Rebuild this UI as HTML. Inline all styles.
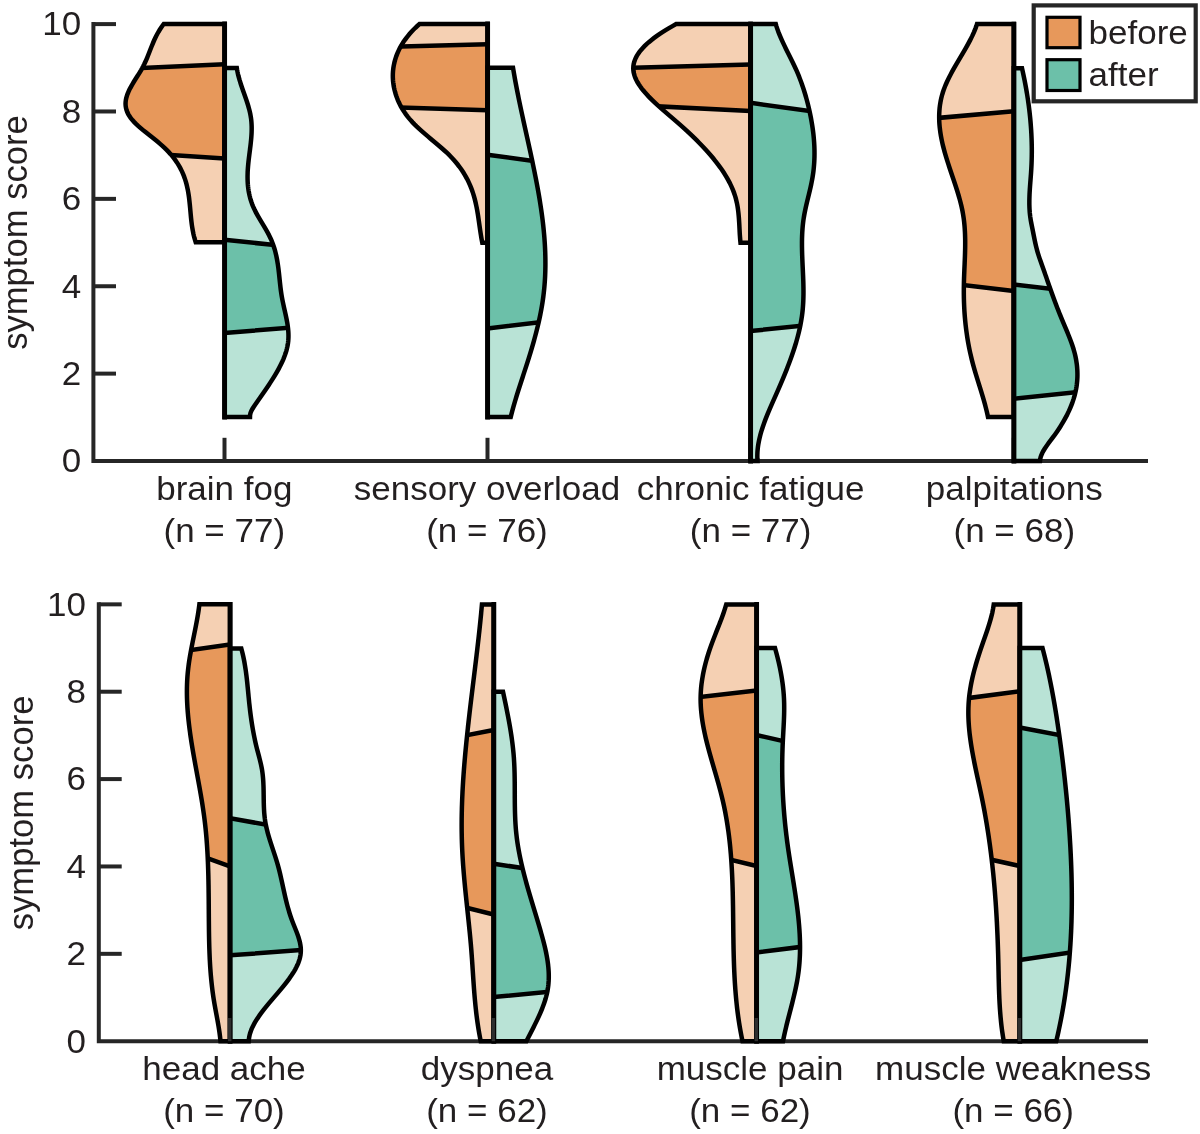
<!DOCTYPE html>
<html lang="en">
<head>
<meta charset="utf-8">
<title>symptom score before / after</title>
<style>
html,body{margin:0;padding:0;background:#fff}
body{width:1200px;height:1134px;overflow:hidden}
svg{display:block}
.t{font-family:"Liberation Sans",sans-serif;font-size:32.4px;fill:#231f20}
</style>
</head>
<body>
<svg width="1200" height="1134" viewBox="0 0 1200 1134">
<rect width="1200" height="1134" fill="#fff"/>
<defs><path id="p1" d="M224.5 24L163.75 24L162.25 26L160.87 28L159.58 30.01L158.38 32.01L157.26 34.01L156.21 36.01L155.23 38.01L154.3 40.01L153.42 42.02L152.58 44.02L151.77 46.02L150.97 48.02L150.19 50.02L149.41 52.03L148.63 54.03L147.83 56.03L147.01 58.03L146.15 60.03L145.26 62.03L144.32 64.04L143.32 66.04L142.25 68.04L141.12 70.04L139.93 72.04L138.7 74.05L137.45 76.05L136.19 78.05L134.93 80.05L133.7 82.05L132.49 84.06L131.34 86.06L130.25 88.06L129.23 90.06L128.31 92.06L127.5 94.06L126.81 96.07L126.25 98.07L125.85 100.07L125.61 102.07L125.55 104.07L125.68 106.08L126.01 108.08L126.54 110.08L127.27 112.08L128.23 114.08L129.4 116.08L130.8 118.09L132.42 120.09L134.25 122.09L136.25 124.09L138.39 126.09L140.67 128.1L143.04 130.1L145.49 132.1L148 134.1L150.52 136.1L153.05 138.1L155.55 140.11L158.01 142.11L160.38 144.11L162.66 146.11L164.82 148.11L166.86 150.12L168.78 152.12L170.58 154.12L172.27 156.12L173.86 158.12L175.34 160.12L176.72 162.13L178 164.13L179.2 166.13L180.31 168.13L181.33 170.13L182.27 172.14L183.14 174.14L183.94 176.14L184.67 178.14L185.33 180.14L185.94 182.14L186.49 184.15L186.99 186.15L187.43 188.15L187.84 190.15L188.2 192.15L188.53 194.16L188.83 196.16L189.1 198.16L189.34 200.16L189.56 202.16L189.77 204.17L189.96 206.17L190.14 208.17L190.32 210.17L190.5 212.17L190.68 214.17L190.87 216.18L191.07 218.18L191.28 220.18L191.51 222.18L191.76 224.18L192.04 226.19L192.35 228.19L192.7 230.19L193.08 232.19L193.5 234.19L193.97 236.19L194.49 238.2L195.07 240.2L195.7 242.2L224.5 242.2Z"/><clipPath id="c1"><use href="#p1"/></clipPath><path id="p2" d="M224.5 67.9L236.8 67.9L237.12 69.91L237.5 71.91L237.94 73.92L238.43 75.93L238.97 77.93L239.54 79.94L240.16 81.94L240.8 83.95L241.47 85.96L242.15 87.96L242.85 89.97L243.56 91.98L244.27 93.98L244.97 95.99L245.67 97.99L246.36 100L247.02 102.01L247.66 104.01L248.27 106.02L248.84 108.03L249.38 110.03L249.86 112.04L250.3 114.05L250.67 116.05L250.99 118.06L251.24 120.06L251.42 122.07L251.56 124.08L251.64 126.08L251.67 128.09L251.66 130.1L251.61 132.1L251.52 134.11L251.39 136.11L251.24 138.12L251.06 140.13L250.85 142.13L250.63 144.14L250.4 146.15L250.15 148.15L249.9 150.16L249.64 152.17L249.38 154.17L249.13 156.18L248.88 158.18L248.65 160.19L248.43 162.2L248.23 164.2L248.05 166.21L247.89 168.22L247.76 170.22L247.66 172.23L247.6 174.24L247.56 176.24L247.57 178.25L247.61 180.25L247.7 182.26L247.83 184.27L248.01 186.27L248.24 188.28L248.53 190.29L248.87 192.29L249.27 194.3L249.73 196.3L250.25 198.31L250.84 200.32L251.5 202.32L252.24 204.33L253.05 206.34L253.93 208.34L254.89 210.35L255.92 212.36L257 214.36L258.12 216.37L259.29 218.37L260.47 220.38L261.67 222.39L262.88 224.39L264.08 226.4L265.26 228.41L266.42 230.41L267.55 232.42L268.62 234.42L269.65 236.43L270.6 238.44L271.49 240.44L272.31 242.45L273.06 244.46L273.75 246.46L274.39 248.47L274.97 250.48L275.51 252.48L275.99 254.49L276.44 256.49L276.84 258.5L277.21 260.51L277.55 262.51L277.86 264.52L278.14 266.53L278.41 268.53L278.65 270.54L278.88 272.54L279.1 274.55L279.31 276.56L279.52 278.56L279.73 280.57L279.94 282.58L280.16 284.58L280.38 286.59L280.63 288.6L280.89 290.6L281.17 292.61L281.47 294.61L281.8 296.62L282.17 298.63L282.56 300.63L282.98 302.64L283.41 304.65L283.85 306.65L284.3 308.66L284.76 310.66L285.21 312.67L285.65 314.68L286.08 316.68L286.49 318.69L286.88 320.7L287.23 322.7L287.55 324.71L287.84 326.72L288.07 328.72L288.26 330.73L288.39 332.73L288.46 334.74L288.47 336.75L288.4 338.75L288.26 340.76L288.04 342.77L287.73 344.77L287.34 346.78L286.88 348.79L286.34 350.79L285.73 352.8L285.06 354.8L284.31 356.81L283.51 358.82L282.64 360.82L281.73 362.83L280.75 364.84L279.73 366.84L278.66 368.85L277.55 370.85L276.4 372.86L275.21 374.87L273.99 376.87L272.73 378.88L271.45 380.89L270.14 382.89L268.81 384.9L267.46 386.91L266.09 388.91L264.72 390.92L263.33 392.92L261.94 394.93L260.54 396.94L259.14 398.94L257.74 400.95L256.35 402.96L254.97 404.96L253.63 406.97L252.39 408.97L251.33 410.98L250.52 412.99L250.06 414.99L250 417L224.5 417Z"/><clipPath id="c2"><use href="#p2"/></clipPath><path id="p3" d="M487.5 24L419.5 24L417.27 26.01L415.15 28.01L413.15 30.02L411.26 32.03L409.48 34.04L407.81 36.04L406.24 38.05L404.77 40.06L403.39 42.07L402.12 44.07L400.93 46.08L399.84 48.09L398.84 50.1L397.92 52.1L397.08 54.11L396.32 56.12L395.64 58.12L395.03 60.13L394.5 62.14L394.05 64.15L393.66 66.15L393.35 68.16L393.11 70.17L392.95 72.18L392.85 74.18L392.83 76.19L392.87 78.2L392.99 80.21L393.18 82.21L393.43 84.22L393.75 86.23L394.15 88.23L394.61 90.24L395.13 92.25L395.73 94.26L396.39 96.26L397.13 98.27L397.94 100.28L398.82 102.29L399.79 104.29L400.84 106.3L401.98 108.31L403.21 110.32L404.53 112.32L405.94 114.33L407.45 116.34L409.07 118.34L410.78 120.35L412.6 122.36L414.54 124.37L416.57 126.37L418.71 128.38L420.92 130.39L423.2 132.4L425.53 134.4L427.89 136.41L430.29 138.42L432.69 140.43L435.09 142.43L437.47 144.44L439.82 146.45L442.13 148.46L444.37 150.46L446.54 152.47L448.63 154.48L450.62 156.48L452.52 158.49L454.32 160.5L456.04 162.51L457.67 164.51L459.21 166.52L460.68 168.53L462.07 170.54L463.38 172.54L464.62 174.55L465.78 176.56L466.88 178.57L467.91 180.57L468.88 182.58L469.78 184.59L470.63 186.59L471.42 188.6L472.15 190.61L472.84 192.62L473.48 194.62L474.07 196.63L474.62 198.64L475.13 200.65L475.61 202.65L476.06 204.66L476.47 206.67L476.86 208.68L477.23 210.68L477.57 212.69L477.9 214.7L478.21 216.7L478.51 218.71L478.8 220.72L479.09 222.73L479.37 224.73L479.66 226.74L479.94 228.75L480.24 230.76L480.54 232.76L480.86 234.77L481.19 236.78L481.54 238.79L481.91 240.79L482.3 242.8L487.5 242.8Z"/><clipPath id="c3"><use href="#p3"/></clipPath><path id="p4" d="M487.5 67.7L513 67.7L513.33 69.71L513.67 71.72L514.01 73.72L514.36 75.73L514.72 77.74L515.08 79.75L515.45 81.76L515.83 83.76L516.21 85.77L516.59 87.78L516.98 89.79L517.37 91.8L517.77 93.8L518.18 95.81L518.58 97.82L518.99 99.83L519.41 101.84L519.83 103.84L520.25 105.85L520.67 107.86L521.1 109.87L521.53 111.88L521.96 113.89L522.4 115.89L522.83 117.9L523.27 119.91L523.71 121.92L524.15 123.93L524.59 125.93L525.04 127.94L525.48 129.95L525.92 131.96L526.37 133.97L526.81 135.97L527.26 137.98L527.7 139.99L528.14 142L528.58 144.01L529.02 146.01L529.46 148.02L529.9 150.03L530.34 152.04L530.77 154.05L531.2 156.05L531.63 158.06L532.06 160.07L532.49 162.08L532.91 164.09L533.33 166.09L533.74 168.1L534.15 170.11L534.56 172.12L534.96 174.13L535.36 176.13L535.76 178.14L536.15 180.15L536.53 182.16L536.91 184.17L537.28 186.17L537.65 188.18L538.02 190.19L538.37 192.2L538.72 194.21L539.07 196.21L539.4 198.22L539.74 200.23L540.06 202.24L540.37 204.25L540.68 206.26L540.98 208.26L541.28 210.27L541.56 212.28L541.84 214.29L542.11 216.3L542.37 218.3L542.62 220.31L542.86 222.32L543.09 224.33L543.31 226.34L543.52 228.34L543.72 230.35L543.92 232.36L544.1 234.37L544.27 236.38L544.43 238.38L544.57 240.39L544.71 242.4L544.84 244.41L544.95 246.42L545.05 248.42L545.14 250.43L545.22 252.44L545.28 254.45L545.33 256.46L545.37 258.46L545.39 260.47L545.4 262.48L545.4 264.49L545.39 266.5L545.35 268.5L545.31 270.51L545.25 272.52L545.18 274.53L545.09 276.54L544.98 278.54L544.86 280.55L544.72 282.56L544.57 284.57L544.4 286.58L544.22 288.59L544.02 290.59L543.8 292.6L543.57 294.61L543.32 296.62L543.05 298.63L542.76 300.63L542.46 302.64L542.14 304.65L541.8 306.66L541.45 308.67L541.08 310.67L540.69 312.68L540.29 314.69L539.88 316.7L539.45 318.71L539.01 320.71L538.56 322.72L538.09 324.73L537.61 326.74L537.11 328.75L536.61 330.75L536.1 332.76L535.57 334.77L535.03 336.78L534.49 338.79L533.93 340.79L533.36 342.8L532.79 344.81L532.2 346.82L531.61 348.83L531.01 350.83L530.41 352.84L529.79 354.85L529.17 356.86L528.55 358.87L527.91 360.87L527.28 362.88L526.63 364.89L525.99 366.9L525.33 368.91L524.68 370.91L524.02 372.92L523.37 374.93L522.71 376.94L522.05 378.95L521.39 380.96L520.74 382.96L520.09 384.97L519.44 386.98L518.79 388.99L518.15 391L517.52 393L516.9 395.01L516.28 397.02L515.67 399.03L515.07 401.04L514.48 403.04L513.9 405.05L513.33 407.06L512.78 409.07L512.23 411.08L511.71 413.08L511.19 415.09L510.7 417.1L487.5 417.1Z"/><clipPath id="c4"><use href="#p4"/></clipPath><path id="p5" d="M750.5 24.1L676.1 24.1L672.47 26.11L668.99 28.11L665.65 30.12L662.46 32.13L659.42 34.13L656.54 36.14L653.81 38.14L651.24 40.15L648.83 42.16L646.58 44.16L644.51 46.17L642.59 48.18L640.85 50.18L639.29 52.19L637.89 54.2L636.68 56.2L635.65 58.21L634.8 60.22L634.13 62.22L633.65 64.23L633.36 66.23L633.27 68.24L633.36 70.25L633.64 72.25L634.1 74.26L634.72 76.27L635.51 78.27L636.45 80.28L637.53 82.29L638.75 84.29L640.1 86.3L641.57 88.31L643.15 90.31L644.84 92.32L646.63 94.32L648.5 96.33L650.46 98.34L652.49 100.34L654.58 102.35L656.73 104.36L658.93 106.36L661.17 108.37L663.45 110.38L665.75 112.38L668.07 114.39L670.4 116.4L672.73 118.4L675.05 120.41L677.36 122.41L679.65 124.42L681.91 126.43L684.14 128.43L686.34 130.44L688.5 132.45L690.64 134.45L692.74 136.46L694.81 138.47L696.84 140.47L698.84 142.48L700.8 144.49L702.72 146.49L704.6 148.5L706.44 150.5L708.24 152.51L710 154.52L711.71 156.52L713.38 158.53L715 160.54L716.58 162.54L718.11 164.55L719.59 166.56L721.02 168.56L722.4 170.57L723.73 172.58L725.01 174.58L726.23 176.59L727.4 178.59L728.51 180.6L729.57 182.61L730.56 184.61L731.5 186.62L732.38 188.63L733.2 190.63L733.96 192.64L734.66 194.65L735.29 196.65L735.86 198.66L736.37 200.67L736.82 202.67L737.22 204.68L737.58 206.68L737.89 208.69L738.16 210.7L738.4 212.7L738.6 214.71L738.78 216.72L738.94 218.72L739.07 220.73L739.19 222.74L739.31 224.74L739.41 226.75L739.51 228.76L739.62 230.76L739.72 232.77L739.84 234.77L739.98 236.78L740.13 238.79L740.3 240.79L740.5 242.8L750.5 242.8Z"/><clipPath id="c5"><use href="#p5"/></clipPath><path id="p6" d="M750.5 24.1L775.8 24.1L776.39 26.1L777.04 28.11L777.73 30.11L778.47 32.12L779.26 34.12L780.09 36.12L780.95 38.13L781.84 40.13L782.76 42.14L783.71 44.14L784.67 46.15L785.65 48.15L786.64 50.15L787.64 52.16L788.65 54.16L789.65 56.17L790.65 58.17L791.64 60.17L792.63 62.18L793.59 64.18L794.54 66.19L795.47 68.19L796.36 70.19L797.23 72.2L798.08 74.2L798.9 76.21L799.69 78.21L800.46 80.22L801.2 82.22L801.92 84.22L802.61 86.23L803.29 88.23L803.94 90.24L804.56 92.24L805.17 94.24L805.76 96.25L806.32 98.25L806.87 100.26L807.4 102.26L807.91 104.27L808.4 106.27L808.87 108.27L809.33 110.28L809.77 112.28L810.19 114.29L810.6 116.29L810.99 118.29L811.36 120.3L811.71 122.3L812.04 124.31L812.36 126.31L812.65 128.31L812.93 130.32L813.18 132.32L813.41 134.33L813.62 136.33L813.81 138.34L813.98 140.34L814.13 142.34L814.25 144.35L814.35 146.35L814.42 148.36L814.47 150.36L814.49 152.36L814.49 154.37L814.47 156.37L814.41 158.38L814.33 160.38L814.23 162.38L814.09 164.39L813.93 166.39L813.74 168.4L813.52 170.4L813.28 172.41L813 174.41L812.69 176.41L812.35 178.42L811.98 180.42L811.59 182.43L811.17 184.43L810.74 186.43L810.28 188.44L809.82 190.44L809.34 192.45L808.86 194.45L808.37 196.46L807.88 198.46L807.39 200.46L806.91 202.47L806.44 204.47L805.98 206.48L805.54 208.48L805.12 210.48L804.71 212.49L804.33 214.49L803.98 216.5L803.66 218.5L803.37 220.5L803.12 222.51L802.89 224.51L802.69 226.52L802.52 228.52L802.38 230.53L802.25 232.53L802.16 234.53L802.08 236.54L802.02 238.54L801.99 240.55L801.97 242.55L801.97 244.55L801.98 246.56L802.01 248.56L802.05 250.57L802.1 252.57L802.16 254.57L802.23 256.58L802.31 258.58L802.39 260.59L802.48 262.59L802.57 264.6L802.66 266.6L802.76 268.6L802.85 270.61L802.94 272.61L803.03 274.62L803.12 276.62L803.19 278.62L803.27 280.63L803.33 282.63L803.38 284.64L803.42 286.64L803.45 288.64L803.47 290.65L803.47 292.65L803.46 294.66L803.42 296.66L803.37 298.67L803.3 300.67L803.21 302.67L803.09 304.68L802.95 306.68L802.79 308.69L802.59 310.69L802.37 312.69L802.12 314.7L801.85 316.7L801.54 318.71L801.21 320.71L800.86 322.72L800.47 324.72L800.07 326.72L799.64 328.73L799.19 330.73L798.71 332.74L798.21 334.74L797.69 336.74L797.15 338.75L796.59 340.75L796.01 342.76L795.4 344.76L794.79 346.76L794.15 348.77L793.49 350.77L792.82 352.78L792.13 354.78L791.43 356.79L790.71 358.79L789.98 360.79L789.24 362.8L788.48 364.8L787.7 366.81L786.92 368.81L786.13 370.81L785.32 372.82L784.5 374.82L783.68 376.83L782.85 378.83L782 380.83L781.15 382.84L780.3 384.84L779.43 386.85L778.56 388.85L777.69 390.86L776.81 392.86L775.93 394.86L775.04 396.87L774.15 398.87L773.26 400.88L772.38 402.88L771.5 404.88L770.63 406.89L769.77 408.89L768.91 410.9L768.08 412.9L767.25 414.91L766.45 416.91L765.66 418.91L764.9 420.92L764.16 422.92L763.45 424.93L762.76 426.93L762.11 428.93L761.49 430.94L760.9 432.94L760.35 434.95L759.84 436.95L759.37 438.95L758.94 440.96L758.56 442.96L758.22 444.97L757.93 446.97L757.7 448.98L757.52 450.98L757.4 452.98L757.33 454.99L757.32 456.99L757.38 459L757.5 461L750.5 461Z"/><clipPath id="c6"><use href="#p6"/></clipPath><path id="p7" d="M1013.8 24.1L977 24.1L976.33 26.1L975.6 28.11L974.81 30.11L973.97 32.12L973.08 34.12L972.15 36.13L971.17 38.13L970.15 40.14L969.1 42.14L968.02 44.15L966.92 46.15L965.79 48.16L964.64 50.16L963.47 52.16L962.3 54.17L961.11 56.17L959.93 58.18L958.74 60.18L957.56 62.19L956.38 64.19L955.22 66.2L954.07 68.2L952.95 70.21L951.84 72.21L950.76 74.21L949.71 76.22L948.7 78.22L947.73 80.23L946.79 82.23L945.91 84.24L945.07 86.24L944.29 88.25L943.56 90.25L942.89 92.26L942.29 94.26L941.74 96.27L941.25 98.27L940.81 100.27L940.43 102.28L940.1 104.28L939.83 106.29L939.6 108.29L939.42 110.3L939.3 112.3L939.21 114.31L939.18 116.31L939.18 118.32L939.23 120.32L939.32 122.32L939.45 124.33L939.62 126.33L939.83 128.34L940.07 130.34L940.35 132.35L940.66 134.35L941 136.36L941.38 138.36L941.78 140.37L942.21 142.37L942.67 144.38L943.16 146.38L943.67 148.38L944.2 150.39L944.75 152.39L945.33 154.4L945.92 156.4L946.53 158.41L947.15 160.41L947.79 162.42L948.44 164.42L949.1 166.43L949.77 168.43L950.44 170.44L951.11 172.44L951.79 174.44L952.47 176.45L953.15 178.45L953.83 180.46L954.5 182.46L955.16 184.47L955.82 186.47L956.46 188.48L957.1 190.48L957.72 192.49L958.32 194.49L958.91 196.49L959.47 198.5L960.02 200.5L960.54 202.51L961.04 204.51L961.52 206.52L961.96 208.52L962.38 210.53L962.76 212.53L963.11 214.54L963.43 216.54L963.71 218.55L963.97 220.55L964.2 222.55L964.4 224.56L964.58 226.56L964.73 228.57L964.85 230.57L964.96 232.58L965.04 234.58L965.1 236.59L965.15 238.59L965.18 240.6L965.19 242.6L965.18 244.61L965.17 246.61L965.14 248.61L965.09 250.62L965.04 252.62L964.98 254.63L964.92 256.63L964.84 258.64L964.76 260.64L964.68 262.65L964.6 264.65L964.51 266.66L964.42 268.66L964.34 270.66L964.26 272.67L964.18 274.67L964.1 276.68L964.03 278.68L963.97 280.69L963.92 282.69L963.88 284.7L963.85 286.7L963.83 288.71L963.82 290.71L963.82 292.72L963.84 294.72L963.86 296.72L963.9 298.73L963.95 300.73L964.02 302.74L964.1 304.74L964.19 306.75L964.29 308.75L964.4 310.76L964.53 312.76L964.68 314.77L964.83 316.77L965.01 318.77L965.19 320.78L965.39 322.78L965.6 324.79L965.83 326.79L966.07 328.8L966.33 330.8L966.61 332.81L966.89 334.81L967.2 336.82L967.52 338.82L967.85 340.83L968.2 342.83L968.57 344.83L968.95 346.84L969.35 348.84L969.77 350.85L970.2 352.85L970.65 354.86L971.12 356.86L971.61 358.87L972.11 360.87L972.63 362.88L973.16 364.88L973.72 366.89L974.28 368.89L974.86 370.89L975.45 372.9L976.06 374.9L976.66 376.91L977.28 378.91L977.9 380.92L978.52 382.92L979.14 384.93L979.77 386.93L980.39 388.94L981.01 390.94L981.62 392.94L982.22 394.95L982.82 396.95L983.41 398.96L983.99 400.96L984.55 402.97L985.1 404.97L985.63 406.98L986.15 408.98L986.65 410.99L987.12 412.99L987.57 415L988 417L1013.8 417Z"/><clipPath id="c7"><use href="#p7"/></clipPath><path id="p8" d="M1013.8 68.2L1022 68.2L1022.45 70.2L1022.89 72.21L1023.32 74.21L1023.74 76.22L1024.15 78.22L1024.56 80.22L1024.95 82.23L1025.33 84.23L1025.7 86.24L1026.06 88.24L1026.41 90.24L1026.75 92.25L1027.08 94.25L1027.4 96.26L1027.71 98.26L1028.01 100.27L1028.29 102.27L1028.57 104.27L1028.84 106.28L1029.09 108.28L1029.34 110.29L1029.57 112.29L1029.79 114.29L1030 116.3L1030.2 118.3L1030.39 120.31L1030.56 122.31L1030.73 124.31L1030.88 126.32L1031.02 128.32L1031.16 130.33L1031.27 132.33L1031.38 134.33L1031.47 136.34L1031.56 138.34L1031.63 140.35L1031.69 142.35L1031.73 144.36L1031.77 146.36L1031.79 148.36L1031.8 150.37L1031.8 152.37L1031.78 154.38L1031.75 156.38L1031.71 158.38L1031.66 160.39L1031.59 162.39L1031.52 164.4L1031.42 166.4L1031.32 168.4L1031.2 170.41L1031.07 172.41L1030.93 174.42L1030.78 176.42L1030.63 178.42L1030.48 180.43L1030.32 182.43L1030.17 184.44L1030.02 186.44L1029.88 188.44L1029.76 190.45L1029.64 192.45L1029.54 194.46L1029.46 196.46L1029.4 198.47L1029.36 200.47L1029.35 202.47L1029.36 204.48L1029.41 206.48L1029.49 208.49L1029.61 210.49L1029.76 212.49L1029.96 214.5L1030.2 216.5L1030.49 218.51L1030.82 220.51L1031.18 222.51L1031.56 224.52L1031.97 226.52L1032.37 228.53L1032.78 230.53L1033.17 232.53L1033.56 234.54L1033.96 236.54L1034.35 238.55L1034.77 240.55L1035.19 242.56L1035.64 244.56L1036.11 246.56L1036.62 248.57L1037.16 250.57L1037.74 252.58L1038.36 254.58L1039 256.58L1039.67 258.59L1040.36 260.59L1041.06 262.6L1041.76 264.6L1042.48 266.6L1043.19 268.61L1043.9 270.61L1044.61 272.62L1045.31 274.62L1046.02 276.62L1046.72 278.63L1047.43 280.63L1048.13 282.64L1048.84 284.64L1049.55 286.64L1050.26 288.65L1050.97 290.65L1051.69 292.66L1052.41 294.66L1053.14 296.67L1053.87 298.67L1054.61 300.67L1055.35 302.68L1056.11 304.68L1056.86 306.69L1057.63 308.69L1058.41 310.69L1059.2 312.7L1059.99 314.7L1060.8 316.71L1061.62 318.71L1062.45 320.71L1063.29 322.72L1064.13 324.72L1064.99 326.73L1065.84 328.73L1066.68 330.73L1067.52 332.74L1068.34 334.74L1069.15 336.75L1069.94 338.75L1070.7 340.76L1071.44 342.76L1072.15 344.76L1072.82 346.77L1073.45 348.77L1074.04 350.78L1074.58 352.78L1075.08 354.78L1075.53 356.79L1075.93 358.79L1076.29 360.8L1076.59 362.8L1076.86 364.8L1077.07 366.81L1077.23 368.81L1077.35 370.82L1077.41 372.82L1077.43 374.82L1077.4 376.83L1077.31 378.83L1077.18 380.84L1076.99 382.84L1076.76 384.84L1076.47 386.85L1076.13 388.85L1075.73 390.86L1075.29 392.86L1074.79 394.87L1074.23 396.87L1073.63 398.87L1072.97 400.88L1072.27 402.88L1071.51 404.89L1070.71 406.89L1069.86 408.89L1068.96 410.9L1068.01 412.9L1067.02 414.91L1065.98 416.91L1064.89 418.91L1063.76 420.92L1062.59 422.92L1061.38 424.93L1060.12 426.93L1058.82 428.93L1057.48 430.94L1056.1 432.94L1054.69 434.95L1053.23 436.95L1051.74 438.96L1050.22 440.96L1048.72 442.96L1047.25 444.97L1045.85 446.97L1044.53 448.98L1043.33 450.98L1042.27 452.98L1041.38 454.99L1040.69 456.99L1040.22 459L1040 461L1013.8 461Z"/><clipPath id="c8"><use href="#p8"/></clipPath><path id="p9" d="M230 604.3L199.4 604.3L199.15 606.3L198.88 608.31L198.59 610.31L198.29 612.32L197.97 614.32L197.63 616.32L197.28 618.33L196.92 620.33L196.55 622.34L196.17 624.34L195.79 626.35L195.39 628.35L195 630.35L194.59 632.36L194.19 634.36L193.78 636.37L193.38 638.37L192.97 640.37L192.57 642.38L192.18 644.38L191.78 646.39L191.4 648.39L191.02 650.39L190.66 652.4L190.3 654.4L189.95 656.41L189.62 658.41L189.3 660.42L189 662.42L188.72 664.42L188.45 666.43L188.21 668.43L187.99 670.44L187.78 672.44L187.6 674.44L187.44 676.45L187.31 678.45L187.19 680.46L187.1 682.46L187.02 684.47L186.96 686.47L186.92 688.47L186.91 690.48L186.9 692.48L186.92 694.49L186.95 696.49L187.01 698.49L187.07 700.5L187.16 702.5L187.26 704.51L187.37 706.51L187.5 708.51L187.64 710.52L187.8 712.52L187.97 714.53L188.15 716.53L188.35 718.54L188.56 720.54L188.78 722.54L189.01 724.55L189.25 726.55L189.5 728.56L189.77 730.56L190.04 732.56L190.32 734.57L190.61 736.57L190.91 738.58L191.21 740.58L191.52 742.58L191.84 744.59L192.17 746.59L192.5 748.6L192.84 750.6L193.18 752.61L193.53 754.61L193.88 756.61L194.24 758.62L194.6 760.62L194.96 762.63L195.32 764.63L195.69 766.63L196.06 768.64L196.43 770.64L196.79 772.65L197.16 774.65L197.53 776.66L197.9 778.66L198.27 780.66L198.63 782.67L199 784.67L199.36 786.68L199.72 788.68L200.07 790.68L200.42 792.69L200.77 794.69L201.11 796.7L201.45 798.7L201.78 800.7L202.11 802.71L202.43 804.71L202.74 806.72L203.04 808.72L203.34 810.73L203.63 812.73L203.91 814.73L204.18 816.74L204.44 818.74L204.69 820.75L204.93 822.75L205.16 824.75L205.38 826.76L205.6 828.76L205.8 830.77L205.99 832.77L206.17 834.77L206.35 836.78L206.52 838.78L206.67 840.79L206.82 842.79L206.97 844.8L207.1 846.8L207.23 848.8L207.35 850.81L207.46 852.81L207.57 854.82L207.67 856.82L207.76 858.82L207.85 860.83L207.93 862.83L208.01 864.84L208.08 866.84L208.15 868.84L208.21 870.85L208.27 872.85L208.32 874.86L208.37 876.86L208.41 878.87L208.46 880.87L208.49 882.87L208.53 884.88L208.56 886.88L208.59 888.89L208.61 890.89L208.64 892.89L208.66 894.9L208.68 896.9L208.7 898.91L208.72 900.91L208.73 902.92L208.75 904.92L208.76 906.92L208.77 908.93L208.79 910.93L208.8 912.94L208.82 914.94L208.83 916.94L208.85 918.95L208.86 920.95L208.88 922.96L208.9 924.96L208.92 926.96L208.94 928.97L208.96 930.97L208.99 932.98L209.02 934.98L209.06 936.99L209.1 938.99L209.14 940.99L209.19 943L209.24 945L209.29 947.01L209.36 949.01L209.43 951.01L209.5 953.02L209.58 955.02L209.67 957.03L209.76 959.03L209.87 961.03L209.98 963.04L210.1 965.04L210.22 967.05L210.36 969.05L210.5 971.06L210.66 973.06L210.82 975.06L211 977.07L211.18 979.07L211.38 981.08L211.59 983.08L211.81 985.08L212.04 987.09L212.28 989.09L212.54 991.1L212.81 993.1L213.09 995.11L213.38 997.11L213.69 999.11L214.02 1001.12L214.35 1003.12L214.7 1005.13L215.06 1007.13L215.42 1009.13L215.79 1011.14L216.16 1013.14L216.54 1015.15L216.91 1017.15L217.28 1019.15L217.64 1021.16L217.99 1023.16L218.34 1025.17L218.67 1027.17L218.99 1029.18L219.29 1031.18L219.58 1033.18L219.84 1035.19L220.09 1037.19L220.31 1039.2L220.5 1041.2L230 1041.2Z"/><clipPath id="c9"><use href="#p9"/></clipPath><path id="p10" d="M230 648.5L241.3 648.5L241.84 650.5L242.35 652.51L242.83 654.51L243.28 656.51L243.7 658.52L244.1 660.52L244.47 662.52L244.82 664.53L245.15 666.53L245.46 668.54L245.76 670.54L246.03 672.54L246.29 674.55L246.54 676.55L246.78 678.55L247 680.56L247.22 682.56L247.42 684.56L247.62 686.57L247.82 688.57L248.02 690.58L248.21 692.58L248.4 694.58L248.59 696.59L248.79 698.59L248.99 700.59L249.19 702.6L249.4 704.6L249.62 706.6L249.85 708.61L250.09 710.61L250.34 712.61L250.6 714.62L250.87 716.62L251.15 718.62L251.44 720.63L251.74 722.63L252.05 724.64L252.38 726.64L252.72 728.64L253.08 730.65L253.45 732.65L253.83 734.65L254.23 736.66L254.64 738.66L255.07 740.66L255.51 742.67L255.98 744.67L256.46 746.68L256.95 748.68L257.47 750.68L258 752.69L258.53 754.69L259.06 756.69L259.59 758.7L260.1 760.7L260.58 762.7L261.04 764.71L261.46 766.71L261.84 768.71L262.17 770.72L262.46 772.72L262.71 774.73L262.91 776.73L263.09 778.73L263.23 780.74L263.34 782.74L263.43 784.74L263.51 786.75L263.56 788.75L263.6 790.75L263.63 792.76L263.66 794.76L263.69 796.76L263.71 798.77L263.74 800.77L263.78 802.78L263.83 804.78L263.9 806.78L263.99 808.79L264.1 810.79L264.23 812.79L264.4 814.8L264.6 816.8L264.84 818.8L265.13 820.81L265.46 822.81L265.83 824.81L266.25 826.82L266.71 828.82L267.21 830.83L267.73 832.83L268.29 834.83L268.88 836.84L269.48 838.84L270.11 840.84L270.75 842.85L271.4 844.85L272.06 846.85L272.72 848.86L273.39 850.86L274.05 852.86L274.71 854.87L275.36 856.87L275.99 858.88L276.61 860.88L277.21 862.88L277.79 864.89L278.34 866.89L278.87 868.89L279.38 870.9L279.87 872.9L280.35 874.9L280.82 876.91L281.27 878.91L281.72 880.91L282.16 882.92L282.6 884.92L283.03 886.93L283.47 888.93L283.91 890.93L284.35 892.94L284.8 894.94L285.25 896.94L285.72 898.95L286.21 900.95L286.7 902.95L287.22 904.96L287.75 906.96L288.31 908.96L288.89 910.97L289.5 912.97L290.14 914.98L290.81 916.98L291.51 918.98L292.25 920.99L293.02 922.99L293.81 924.99L294.62 927L295.42 929L296.22 931L296.99 933.01L297.72 935.01L298.41 937.01L299.03 939.02L299.59 941.02L300.05 943.03L300.42 945.03L300.69 947.03L300.83 949.04L300.84 951.04L300.73 953.04L300.49 955.05L300.12 957.05L299.61 959.05L298.99 961.06L298.24 963.06L297.39 965.06L296.43 967.07L295.38 969.07L294.24 971.08L293.01 973.08L291.71 975.08L290.33 977.09L288.9 979.09L287.4 981.09L285.86 983.1L284.27 985.1L282.64 987.1L280.99 989.11L279.3 991.11L277.61 993.11L275.9 995.12L274.18 997.12L272.47 999.12L270.77 1001.13L269.08 1003.13L267.42 1005.14L265.78 1007.14L264.18 1009.14L262.62 1011.15L261.11 1013.15L259.66 1015.15L258.26 1017.16L256.94 1019.16L255.69 1021.16L254.52 1023.17L253.44 1025.17L252.45 1027.18L251.56 1029.18L250.79 1031.18L250.12 1033.19L249.58 1035.19L249.17 1037.19L248.89 1039.2L248.75 1041.2L230 1041.2Z"/><clipPath id="c10"><use href="#p10"/></clipPath><path id="p11" d="M493.7 604.4L481.95 604.4L481.77 606.4L481.59 608.41L481.41 610.41L481.22 612.41L481.03 614.42L480.83 616.42L480.63 618.43L480.43 620.43L480.23 622.43L480.02 624.44L479.81 626.44L479.6 628.44L479.39 630.45L479.17 632.45L478.95 634.46L478.73 636.46L478.51 638.46L478.28 640.47L478.05 642.47L477.82 644.47L477.59 646.48L477.36 648.48L477.13 650.48L476.89 652.49L476.65 654.49L476.42 656.5L476.18 658.5L475.94 660.5L475.69 662.51L475.45 664.51L475.21 666.51L474.97 668.52L474.72 670.52L474.48 672.52L474.23 674.53L473.99 676.53L473.74 678.54L473.49 680.54L473.25 682.54L473 684.55L472.76 686.55L472.51 688.55L472.27 690.56L472.02 692.56L471.78 694.57L471.53 696.57L471.29 698.57L471.05 700.58L470.81 702.58L470.57 704.58L470.33 706.59L470.09 708.59L469.86 710.59L469.62 712.6L469.39 714.6L469.16 716.61L468.93 718.61L468.7 720.61L468.47 722.62L468.25 724.62L468.02 726.62L467.8 728.63L467.59 730.63L467.37 732.63L467.16 734.64L466.95 736.64L466.74 738.65L466.53 740.65L466.33 742.65L466.13 744.66L465.93 746.66L465.74 748.66L465.55 750.67L465.36 752.67L465.18 754.68L465 756.68L464.83 758.68L464.65 760.69L464.48 762.69L464.32 764.69L464.16 766.7L464 768.7L463.85 770.7L463.7 772.71L463.56 774.71L463.42 776.72L463.28 778.72L463.15 780.72L463.03 782.73L462.91 784.73L462.79 786.73L462.68 788.74L462.57 790.74L462.47 792.74L462.38 794.75L462.29 796.75L462.2 798.76L462.13 800.76L462.05 802.76L461.99 804.77L461.92 806.77L461.87 808.77L461.82 810.78L461.78 812.78L461.74 814.79L461.71 816.79L461.69 818.79L461.67 820.8L461.66 822.8L461.65 824.8L461.66 826.81L461.67 828.81L461.68 830.81L461.71 832.82L461.74 834.82L461.78 836.83L461.82 838.83L461.88 840.83L461.94 842.84L462.01 844.84L462.08 846.84L462.17 848.85L462.26 850.85L462.36 852.86L462.47 854.86L462.58 856.86L462.71 858.87L462.84 860.87L462.97 862.87L463.11 864.88L463.26 866.88L463.42 868.88L463.58 870.89L463.74 872.89L463.91 874.9L464.09 876.9L464.26 878.9L464.45 880.91L464.63 882.91L464.83 884.91L465.02 886.92L465.22 888.92L465.42 890.92L465.62 892.93L465.82 894.93L466.03 896.94L466.24 898.94L466.45 900.94L466.66 902.95L466.87 904.95L467.08 906.95L467.3 908.96L467.51 910.96L467.72 912.97L467.94 914.97L468.15 916.97L468.36 918.98L468.57 920.98L468.78 922.98L468.98 924.99L469.19 926.99L469.39 928.99L469.59 931L469.79 933L469.98 935.01L470.17 937.01L470.36 939.01L470.54 941.02L470.72 943.02L470.9 945.02L471.07 947.03L471.23 949.03L471.39 951.03L471.54 953.04L471.69 955.04L471.84 957.05L471.98 959.05L472.12 961.05L472.26 963.06L472.39 965.06L472.52 967.06L472.65 969.07L472.79 971.07L472.92 973.08L473.05 975.08L473.18 977.08L473.31 979.09L473.45 981.09L473.59 983.09L473.73 985.1L473.87 987.1L474.02 989.1L474.18 991.11L474.33 993.11L474.5 995.12L474.67 997.12L474.84 999.12L475.03 1001.13L475.22 1003.13L475.41 1005.13L475.62 1007.14L475.83 1009.14L476.06 1011.14L476.29 1013.15L476.53 1015.15L476.78 1017.16L477.04 1019.16L477.31 1021.16L477.6 1023.17L477.89 1025.17L478.2 1027.17L478.51 1029.18L478.85 1031.18L479.19 1033.19L479.55 1035.19L479.92 1037.19L480.3 1039.2L480.7 1041.2L493.7 1041.2Z"/><clipPath id="c11"><use href="#p11"/></clipPath><path id="p12" d="M493.7 691.75L503 691.75L503.43 693.76L503.85 695.77L504.28 697.77L504.7 699.78L505.12 701.79L505.54 703.8L505.95 705.81L506.36 707.82L506.77 709.83L507.17 711.83L507.56 713.84L507.95 715.85L508.33 717.86L508.71 719.87L509.08 721.88L509.44 723.88L509.79 725.89L510.13 727.9L510.47 729.91L510.79 731.92L511.1 733.92L511.41 735.93L511.7 737.94L511.98 739.95L512.25 741.96L512.5 743.97L512.74 745.98L512.97 747.98L513.18 749.99L513.38 752L513.57 754.01L513.73 756.02L513.89 758.02L514.02 760.03L514.14 762.04L514.25 764.05L514.34 766.06L514.42 768.07L514.49 770.08L514.55 772.08L514.6 774.09L514.64 776.1L514.67 778.11L514.7 780.12L514.72 782.12L514.74 784.13L514.75 786.14L514.76 788.15L514.77 790.16L514.77 792.17L514.78 794.18L514.78 796.18L514.79 798.19L514.81 800.2L514.82 802.21L514.84 804.22L514.87 806.23L514.9 808.23L514.94 810.24L514.99 812.25L515.05 814.26L515.12 816.27L515.2 818.27L515.29 820.28L515.4 822.29L515.52 824.3L515.66 826.31L515.81 828.32L515.98 830.33L516.17 832.33L516.38 834.34L516.6 836.35L516.85 838.36L517.12 840.37L517.4 842.38L517.71 844.38L518.03 846.39L518.37 848.4L518.72 850.41L519.1 852.42L519.48 854.43L519.89 856.43L520.31 858.44L520.74 860.45L521.18 862.46L521.64 864.47L522.11 866.48L522.59 868.48L523.09 870.49L523.59 872.5L524.11 874.51L524.63 876.52L525.17 878.53L525.71 880.53L526.26 882.54L526.82 884.55L527.38 886.56L527.95 888.57L528.53 890.58L529.12 892.58L529.7 894.59L530.3 896.6L530.89 898.61L531.49 900.62L532.09 902.62L532.7 904.63L533.3 906.64L533.91 908.65L534.52 910.66L535.12 912.67L535.73 914.68L536.34 916.68L536.94 918.69L537.54 920.7L538.14 922.71L538.74 924.72L539.33 926.73L539.92 928.73L540.5 930.74L541.08 932.75L541.65 934.76L542.21 936.77L542.76 938.78L543.29 940.78L543.81 942.79L544.32 944.8L544.81 946.81L545.28 948.82L545.72 950.83L546.14 952.83L546.54 954.84L546.91 956.85L547.26 958.86L547.57 960.87L547.85 962.88L548.1 964.88L548.31 966.89L548.48 968.9L548.62 970.91L548.72 972.92L548.77 974.93L548.78 976.93L548.74 978.94L548.66 980.95L548.52 982.96L548.34 984.97L548.1 986.98L547.81 988.98L547.46 990.99L547.06 993L546.59 995.01L546.07 997.02L545.5 999.03L544.88 1001.03L544.21 1003.04L543.5 1005.05L542.74 1007.06L541.95 1009.07L541.12 1011.08L540.26 1013.08L539.37 1015.09L538.46 1017.1L537.51 1019.11L536.55 1021.12L535.57 1023.12L534.58 1025.13L533.57 1027.14L532.55 1029.15L531.52 1031.16L530.49 1033.17L529.47 1035.18L528.44 1037.18L527.41 1039.19L526.4 1041.2L493.7 1041.2Z"/><clipPath id="c12"><use href="#p12"/></clipPath><path id="p13" d="M756.5 604.4L726.25 604.4L725.66 606.4L725.05 608.41L724.4 610.41L723.72 612.41L723.02 614.42L722.3 616.42L721.57 618.43L720.81 620.43L720.04 622.43L719.26 624.44L718.48 626.44L717.69 628.44L716.89 630.45L716.1 632.45L715.3 634.46L714.52 636.46L713.74 638.46L712.97 640.47L712.21 642.47L711.48 644.47L710.76 646.48L710.05 648.48L709.37 650.48L708.71 652.49L708.08 654.49L707.46 656.5L706.87 658.5L706.3 660.5L705.75 662.51L705.23 664.51L704.73 666.51L704.26 668.52L703.81 670.52L703.39 672.52L703 674.53L702.64 676.53L702.3 678.54L701.99 680.54L701.71 682.54L701.46 684.55L701.24 686.55L701.06 688.55L700.9 690.56L700.78 692.56L700.69 694.57L700.63 696.57L700.6 698.57L700.61 700.58L700.65 702.58L700.73 704.58L700.83 706.59L700.97 708.59L701.13 710.59L701.32 712.6L701.54 714.6L701.78 716.61L702.05 718.61L702.34 720.61L702.65 722.62L702.99 724.62L703.35 726.62L703.73 728.63L704.13 730.63L704.54 732.63L704.98 734.64L705.43 736.64L705.89 738.65L706.37 740.65L706.86 742.65L707.37 744.66L707.89 746.66L708.42 748.66L708.95 750.67L709.5 752.67L710.06 754.68L710.62 756.68L711.19 758.68L711.76 760.69L712.34 762.69L712.92 764.69L713.5 766.7L714.08 768.7L714.66 770.7L715.25 772.71L715.83 774.71L716.41 776.72L716.98 778.72L717.55 780.72L718.12 782.73L718.68 784.73L719.23 786.73L719.77 788.74L720.31 790.74L720.83 792.74L721.34 794.75L721.84 796.75L722.33 798.76L722.8 800.76L723.26 802.76L723.71 804.77L724.14 806.77L724.55 808.77L724.96 810.78L725.35 812.78L725.72 814.79L726.09 816.79L726.44 818.79L726.78 820.8L727.1 822.8L727.42 824.8L727.72 826.81L728.01 828.81L728.29 830.81L728.56 832.82L728.82 834.82L729.07 836.83L729.31 838.83L729.54 840.83L729.76 842.84L729.97 844.84L730.17 846.84L730.36 848.85L730.54 850.85L730.71 852.86L730.88 854.86L731.03 856.86L731.18 858.87L731.32 860.87L731.46 862.87L731.58 864.88L731.7 866.88L731.82 868.88L731.92 870.89L732.02 872.89L732.12 874.9L732.21 876.9L732.29 878.9L732.37 880.91L732.44 882.91L732.51 884.91L732.57 886.92L732.63 888.92L732.69 890.92L732.74 892.93L732.78 894.93L732.83 896.94L732.87 898.94L732.91 900.94L732.94 902.95L732.98 904.95L733.01 906.95L733.04 908.96L733.06 910.96L733.09 912.97L733.11 914.97L733.14 916.97L733.16 918.98L733.18 920.98L733.21 922.98L733.23 924.99L733.25 926.99L733.27 928.99L733.29 931L733.32 933L733.34 935.01L733.37 937.01L733.4 939.01L733.43 941.02L733.46 943.02L733.5 945.02L733.53 947.03L733.57 949.03L733.61 951.03L733.66 953.04L733.71 955.04L733.76 957.05L733.82 959.05L733.88 961.05L733.95 963.06L734.02 965.06L734.09 967.06L734.17 969.07L734.26 971.07L734.35 973.08L734.45 975.08L734.55 977.08L734.66 979.09L734.78 981.09L734.9 983.09L735.03 985.1L735.17 987.1L735.31 989.1L735.47 991.11L735.63 993.11L735.8 995.12L735.97 997.12L736.16 999.12L736.36 1001.13L736.56 1003.13L736.77 1005.13L737 1007.14L737.23 1009.14L737.47 1011.14L737.73 1013.15L737.99 1015.15L738.27 1017.16L738.55 1019.16L738.85 1021.16L739.16 1023.17L739.48 1025.17L739.81 1027.17L740.16 1029.18L740.52 1031.18L740.89 1033.19L741.27 1035.19L741.67 1037.19L742.08 1039.2L742.5 1041.2L756.5 1041.2Z"/><clipPath id="c13"><use href="#p13"/></clipPath><path id="p14" d="M756.5 648L775 648L775.56 650.01L776.11 652.01L776.65 654.02L777.17 656.02L777.67 658.03L778.16 660.04L778.64 662.04L779.09 664.05L779.53 666.06L779.96 668.06L780.36 670.07L780.75 672.07L781.12 674.08L781.47 676.09L781.8 678.09L782.11 680.1L782.4 682.1L782.67 684.11L782.92 686.12L783.15 688.12L783.36 690.13L783.54 692.13L783.7 694.14L783.84 696.15L783.96 698.15L784.05 700.16L784.12 702.17L784.17 704.17L784.19 706.18L784.2 708.18L784.19 710.19L784.16 712.2L784.12 714.2L784.06 716.21L783.99 718.21L783.91 720.22L783.83 722.23L783.73 724.23L783.63 726.24L783.52 728.24L783.41 730.25L783.3 732.26L783.19 734.26L783.08 736.27L782.98 738.28L782.87 740.28L782.78 742.29L782.69 744.29L782.61 746.3L782.53 748.31L782.47 750.31L782.41 752.32L782.36 754.32L782.31 756.33L782.28 758.34L782.25 760.34L782.23 762.35L782.21 764.36L782.21 766.36L782.21 768.37L782.21 770.37L782.23 772.38L782.25 774.39L782.28 776.39L782.32 778.4L782.36 780.4L782.42 782.41L782.48 784.42L782.54 786.42L782.62 788.43L782.7 790.43L782.79 792.44L782.88 794.45L782.98 796.45L783.09 798.46L783.21 800.47L783.34 802.47L783.47 804.48L783.61 806.48L783.75 808.49L783.91 810.5L784.07 812.5L784.23 814.51L784.41 816.51L784.59 818.52L784.78 820.53L784.97 822.53L785.17 824.54L785.38 826.54L785.6 828.55L785.82 830.56L786.06 832.56L786.29 834.57L786.54 836.58L786.79 838.58L787.05 840.59L787.31 842.59L787.59 844.6L787.86 846.61L788.15 848.61L788.44 850.62L788.74 852.62L789.04 854.63L789.35 856.64L789.66 858.64L789.97 860.65L790.29 862.66L790.61 864.66L790.94 866.67L791.26 868.67L791.58 870.68L791.91 872.69L792.24 874.69L792.56 876.7L792.89 878.7L793.21 880.71L793.53 882.72L793.86 884.72L794.17 886.73L794.49 888.73L794.8 890.74L795.1 892.75L795.41 894.75L795.7 896.76L795.99 898.77L796.28 900.77L796.56 902.78L796.83 904.78L797.09 906.79L797.35 908.8L797.59 910.8L797.83 912.81L798.06 914.81L798.28 916.82L798.49 918.83L798.69 920.83L798.87 922.84L799.05 924.84L799.21 926.85L799.36 928.86L799.49 930.86L799.61 932.87L799.72 934.88L799.81 936.88L799.89 938.89L799.95 940.89L800 942.9L800.02 944.91L800.04 946.91L800.03 948.92L800 950.92L799.96 952.93L799.9 954.94L799.81 956.94L799.71 958.95L799.59 960.96L799.44 962.96L799.28 964.97L799.09 966.97L798.88 968.98L798.65 970.99L798.39 972.99L798.11 975L797.8 977L797.47 979.01L797.12 981.02L796.75 983.02L796.36 985.03L795.95 987.03L795.53 989.04L795.09 991.05L794.63 993.05L794.17 995.06L793.69 997.07L793.2 999.07L792.7 1001.08L792.2 1003.08L791.69 1005.09L791.18 1007.1L790.66 1009.1L790.14 1011.11L789.62 1013.11L789.1 1015.12L788.58 1017.13L788.06 1019.13L787.55 1021.14L787.05 1023.14L786.55 1025.15L786.07 1027.16L785.59 1029.16L785.12 1031.17L784.67 1033.18L784.23 1035.18L783.8 1037.19L783.39 1039.19L783 1041.2L756.5 1041.2Z"/><clipPath id="c14"><use href="#p14"/></clipPath><path id="p15" d="M1019.75 604.4L993.75 604.4L993.46 606.4L993.13 608.41L992.75 610.41L992.34 612.41L991.88 614.42L991.38 616.42L990.86 618.43L990.3 620.43L989.72 622.43L989.11 624.44L988.48 626.44L987.83 628.44L987.17 630.45L986.49 632.45L985.8 634.46L985.11 636.46L984.41 638.46L983.7 640.47L983 642.47L982.31 644.47L981.62 646.48L980.94 648.48L980.26 650.48L979.6 652.49L978.95 654.49L978.31 656.5L977.68 658.5L977.06 660.5L976.46 662.51L975.87 664.51L975.3 666.51L974.75 668.52L974.21 670.52L973.69 672.52L973.19 674.53L972.71 676.53L972.26 678.54L971.82 680.54L971.4 682.54L971.01 684.55L970.64 686.55L970.3 688.55L969.99 690.56L969.7 692.56L969.43 694.57L969.2 696.57L968.99 698.57L968.82 700.58L968.67 702.58L968.56 704.58L968.47 706.59L968.4 708.59L968.37 710.59L968.36 712.6L968.37 714.6L968.41 716.61L968.48 718.61L968.56 720.61L968.67 722.62L968.8 724.62L968.95 726.62L969.12 728.63L969.31 730.63L969.52 732.63L969.75 734.64L969.99 736.64L970.25 738.65L970.53 740.65L970.82 742.65L971.12 744.66L971.44 746.66L971.77 748.66L972.11 750.67L972.47 752.67L972.83 754.68L973.21 756.68L973.59 758.68L973.98 760.69L974.38 762.69L974.79 764.69L975.2 766.7L975.62 768.7L976.04 770.7L976.47 772.71L976.9 774.71L977.33 776.72L977.77 778.72L978.2 780.72L978.64 782.73L979.07 784.73L979.51 786.73L979.94 788.74L980.37 790.74L980.8 792.74L981.22 794.75L981.64 796.75L982.05 798.76L982.46 800.76L982.86 802.76L983.26 804.77L983.64 806.77L984.02 808.77L984.4 810.78L984.77 812.78L985.13 814.79L985.49 816.79L985.84 818.79L986.18 820.8L986.52 822.8L986.85 824.8L987.17 826.81L987.49 828.81L987.81 830.81L988.12 832.82L988.42 834.82L988.72 836.83L989.01 838.83L989.29 840.83L989.57 842.84L989.85 844.84L990.12 846.84L990.38 848.85L990.64 850.85L990.9 852.86L991.14 854.86L991.39 856.86L991.63 858.87L991.86 860.87L992.09 862.87L992.31 864.88L992.53 866.88L992.74 868.88L992.95 870.89L993.16 872.89L993.36 874.9L993.55 876.9L993.74 878.9L993.93 880.91L994.11 882.91L994.29 884.91L994.46 886.92L994.63 888.92L994.8 890.92L994.96 892.93L995.11 894.93L995.26 896.94L995.41 898.94L995.56 900.94L995.7 902.95L995.83 904.95L995.97 906.95L996.1 908.96L996.22 910.96L996.34 912.97L996.46 914.97L996.58 916.97L996.69 918.98L996.79 920.98L996.9 922.98L997 924.99L997.1 926.99L997.19 928.99L997.28 931L997.37 933L997.46 935.01L997.54 937.01L997.62 939.01L997.7 941.02L997.77 943.02L997.84 945.02L997.91 947.03L997.98 949.03L998.04 951.03L998.1 953.04L998.16 955.04L998.21 957.05L998.27 959.05L998.32 961.05L998.36 963.06L998.41 965.06L998.46 967.06L998.5 969.07L998.54 971.07L998.59 973.08L998.63 975.08L998.67 977.08L998.72 979.09L998.77 981.09L998.82 983.09L998.87 985.1L998.93 987.1L998.99 989.1L999.06 991.11L999.13 993.11L999.21 995.12L999.29 997.12L999.38 999.12L999.48 1001.13L999.58 1003.13L999.7 1005.13L999.82 1007.14L999.95 1009.14L1000.09 1011.14L1000.25 1013.15L1000.41 1015.15L1000.58 1017.16L1000.77 1019.16L1000.97 1021.16L1001.18 1023.17L1001.4 1025.17L1001.64 1027.17L1001.9 1029.18L1002.16 1031.18L1002.45 1033.19L1002.75 1035.19L1003.06 1037.19L1003.4 1039.2L1003.75 1041.2L1019.75 1041.2Z"/><clipPath id="c15"><use href="#p15"/></clipPath><path id="p16" d="M1019.75 648L1042.5 648L1043.03 650.01L1043.54 652.01L1044.05 654.02L1044.56 656.02L1045.05 658.03L1045.53 660.04L1046.01 662.04L1046.48 664.05L1046.95 666.06L1047.4 668.06L1047.85 670.07L1048.29 672.07L1048.72 674.08L1049.15 676.09L1049.57 678.09L1049.98 680.1L1050.39 682.1L1050.79 684.11L1051.18 686.12L1051.57 688.12L1051.96 690.13L1052.33 692.13L1052.7 694.14L1053.07 696.15L1053.43 698.15L1053.78 700.16L1054.13 702.17L1054.48 704.17L1054.82 706.18L1055.15 708.18L1055.48 710.19L1055.81 712.2L1056.13 714.2L1056.45 716.21L1056.76 718.21L1057.07 720.22L1057.37 722.23L1057.68 724.23L1057.97 726.24L1058.27 728.24L1058.56 730.25L1058.85 732.26L1059.14 734.26L1059.42 736.27L1059.7 738.28L1059.98 740.28L1060.25 742.29L1060.52 744.29L1060.79 746.3L1061.06 748.31L1061.32 750.31L1061.58 752.32L1061.83 754.32L1062.09 756.33L1062.34 758.34L1062.59 760.34L1062.83 762.35L1063.08 764.36L1063.32 766.36L1063.55 768.37L1063.78 770.37L1064.02 772.38L1064.24 774.39L1064.47 776.39L1064.69 778.4L1064.91 780.4L1065.12 782.41L1065.33 784.42L1065.54 786.42L1065.75 788.43L1065.95 790.43L1066.15 792.44L1066.35 794.45L1066.54 796.45L1066.73 798.46L1066.92 800.47L1067.1 802.47L1067.28 804.48L1067.46 806.48L1067.64 808.49L1067.81 810.5L1067.98 812.5L1068.14 814.51L1068.3 816.51L1068.46 818.52L1068.62 820.53L1068.77 822.53L1068.92 824.54L1069.06 826.54L1069.2 828.55L1069.34 830.56L1069.48 832.56L1069.61 834.57L1069.74 836.58L1069.86 838.58L1069.98 840.59L1070.1 842.59L1070.22 844.6L1070.33 846.61L1070.44 848.61L1070.54 850.62L1070.64 852.62L1070.74 854.63L1070.83 856.64L1070.92 858.64L1071 860.65L1071.09 862.66L1071.16 864.66L1071.24 866.67L1071.31 868.67L1071.37 870.68L1071.43 872.69L1071.49 874.69L1071.54 876.7L1071.59 878.7L1071.63 880.71L1071.67 882.72L1071.7 884.72L1071.73 886.73L1071.76 888.73L1071.78 890.74L1071.79 892.75L1071.8 894.75L1071.81 896.76L1071.81 898.77L1071.81 900.77L1071.8 902.78L1071.79 904.78L1071.77 906.79L1071.74 908.8L1071.71 910.8L1071.68 912.81L1071.64 914.81L1071.59 916.82L1071.54 918.83L1071.49 920.83L1071.43 922.84L1071.36 924.84L1071.29 926.85L1071.21 928.86L1071.13 930.86L1071.04 932.87L1070.94 934.88L1070.84 936.88L1070.73 938.89L1070.62 940.89L1070.5 942.9L1070.38 944.91L1070.24 946.91L1070.11 948.92L1069.96 950.92L1069.81 952.93L1069.66 954.94L1069.5 956.94L1069.33 958.95L1069.15 960.96L1068.97 962.96L1068.78 964.97L1068.59 966.97L1068.38 968.98L1068.18 970.99L1067.96 972.99L1067.74 975L1067.51 977L1067.27 979.01L1067.03 981.02L1066.78 983.02L1066.52 985.03L1066.26 987.03L1065.99 989.04L1065.71 991.05L1065.42 993.05L1065.13 995.06L1064.83 997.07L1064.52 999.07L1064.21 1001.08L1063.88 1003.08L1063.55 1005.09L1063.22 1007.1L1062.87 1009.1L1062.52 1011.11L1062.16 1013.11L1061.79 1015.12L1061.41 1017.13L1061.02 1019.13L1060.63 1021.14L1060.23 1023.14L1059.82 1025.15L1059.4 1027.16L1058.98 1029.16L1058.54 1031.17L1058.1 1033.18L1057.65 1035.18L1057.19 1037.19L1056.72 1039.19L1056.25 1041.2L1019.75 1041.2Z"/><clipPath id="c16"><use href="#p16"/></clipPath></defs>
<path d="M93.4 22.1L93.4 461L1148 461" fill="none" stroke="#262626" stroke-width="4" stroke-linejoin="miter"/><path d="M93.4 24.1L116 24.1" stroke="#262626" stroke-width="4"/><text transform="translate(81.3 35.4) scale(1.08 1)" text-anchor="end" class="t">10</text><path d="M93.4 111.48L116 111.48" stroke="#262626" stroke-width="4"/><text transform="translate(81.3 122.78) scale(1.08 1)" text-anchor="end" class="t">8</text><path d="M93.4 198.86L116 198.86" stroke="#262626" stroke-width="4"/><text transform="translate(81.3 210.16) scale(1.08 1)" text-anchor="end" class="t">6</text><path d="M93.4 286.24L116 286.24" stroke="#262626" stroke-width="4"/><text transform="translate(81.3 297.54) scale(1.08 1)" text-anchor="end" class="t">4</text><path d="M93.4 373.62L116 373.62" stroke="#262626" stroke-width="4"/><text transform="translate(81.3 384.92) scale(1.08 1)" text-anchor="end" class="t">2</text><text transform="translate(81.3 472.3) scale(1.08 1)" text-anchor="end" class="t">0</text><path d="M224.5 437.8L224.5 461" stroke="#262626" stroke-width="4"/><path d="M487.5 437.8L487.5 461" stroke="#262626" stroke-width="4"/><path d="M750.5 437.8L750.5 461" stroke="#262626" stroke-width="4"/><path d="M1013.8 437.8L1013.8 461" stroke="#262626" stroke-width="4"/><text transform="translate(27 232.5) rotate(-90) scale(1.069 1.11)" text-anchor="middle" class="t">symptom score</text>
<g><use href="#p1" fill="#F5D0B3"/><g clip-path="url(#c1)"><path d="M224.5 64.2L-35.5 76.25L-35.5 141.37L224.5 158.6Z" fill="#E7985B"/><path d="M224.5 64.2L-35.5 76.25M224.5 158.6L-35.5 141.37" fill="none" stroke="#000" stroke-width="4.5"/></g><use href="#p1" fill="none" stroke="#000" stroke-width="4.5" stroke-linejoin="miter" stroke-miterlimit="6"/></g>
<g><use href="#p2" fill="#B9E3D6"/><g clip-path="url(#c2)"><path d="M224.5 239.8L484.5 266.93L484.5 311.86L224.5 333Z" fill="#6CC0A9"/><path d="M224.5 239.8L484.5 266.93M224.5 333L484.5 311.86" fill="none" stroke="#000" stroke-width="4.5"/></g><use href="#p2" fill="none" stroke="#000" stroke-width="4.5" stroke-linejoin="miter" stroke-miterlimit="6"/></g>
<g><use href="#p3" fill="#F5D0B3"/><g clip-path="url(#c3)"><path d="M487.5 44.2L227.5 50.84L227.5 101.73L487.5 110.3Z" fill="#E7985B"/><path d="M487.5 44.2L227.5 50.84M487.5 110.3L227.5 101.73" fill="none" stroke="#000" stroke-width="4.5"/></g><use href="#p3" fill="none" stroke="#000" stroke-width="4.5" stroke-linejoin="miter" stroke-miterlimit="6"/></g>
<g><use href="#p4" fill="#B9E3D6"/><g clip-path="url(#c4)"><path d="M487.5 154.7L747.5 190.56L747.5 297.82L487.5 328.5Z" fill="#6CC0A9"/><path d="M487.5 154.7L747.5 190.56M487.5 328.5L747.5 297.82" fill="none" stroke="#000" stroke-width="4.5"/></g><use href="#p4" fill="none" stroke="#000" stroke-width="4.5" stroke-linejoin="miter" stroke-miterlimit="6"/></g>
<g><use href="#p5" fill="#F5D0B3"/><g clip-path="url(#c5)"><path d="M750.5 64.4L490.5 71.9L490.5 98L750.5 111Z" fill="#E7985B"/><path d="M750.5 64.4L490.5 71.9M750.5 111L490.5 98" fill="none" stroke="#000" stroke-width="4.5"/></g><use href="#p5" fill="none" stroke="#000" stroke-width="4.5" stroke-linejoin="miter" stroke-miterlimit="6"/></g>
<g><use href="#p6" fill="#B9E3D6"/><g clip-path="url(#c6)"><path d="M750.5 102.8L1010.5 139.11L1010.5 304.74L750.5 331Z" fill="#6CC0A9"/><path d="M750.5 102.8L1010.5 139.11M750.5 331L1010.5 304.74" fill="none" stroke="#000" stroke-width="4.5"/></g><use href="#p6" fill="none" stroke="#000" stroke-width="4.5" stroke-linejoin="miter" stroke-miterlimit="6"/></g>
<g><use href="#p7" fill="#F5D0B3"/><g clip-path="url(#c7)"><path d="M1013.8 111.2L753.8 134.43L753.8 260.29L1013.8 291Z" fill="#E7985B"/><path d="M1013.8 111.2L753.8 134.43M1013.8 291L753.8 260.29" fill="none" stroke="#000" stroke-width="4.5"/></g><use href="#p7" fill="none" stroke="#000" stroke-width="4.5" stroke-linejoin="miter" stroke-miterlimit="6"/></g>
<g><use href="#p8" fill="#B9E3D6"/><g clip-path="url(#c8)"><path d="M1013.8 284.5L1273.8 315.02L1273.8 371.3L1013.8 398.75Z" fill="#6CC0A9"/><path d="M1013.8 284.5L1273.8 315.02M1013.8 398.75L1273.8 371.3" fill="none" stroke="#000" stroke-width="4.5"/></g><use href="#p8" fill="none" stroke="#000" stroke-width="4.5" stroke-linejoin="miter" stroke-miterlimit="6"/></g>
<path d="M224.65 24L224.65 417" stroke="#000" stroke-width="4.8" stroke-linecap="square"/><path d="M487.65 24L487.65 417.1" stroke="#000" stroke-width="4.8" stroke-linecap="square"/><path d="M750.65 24.1L750.65 461" stroke="#000" stroke-width="4.8" stroke-linecap="square"/><path d="M1013.95 24.1L1013.95 461" stroke="#000" stroke-width="4.8" stroke-linecap="square"/>
<path d="M98.8 602.35L98.8 1041.2L1148 1041.2" fill="none" stroke="#262626" stroke-width="4" stroke-linejoin="miter"/><path d="M98.8 604.35L121.7 604.35" stroke="#262626" stroke-width="4"/><text transform="translate(86 615.65) scale(1.08 1)" text-anchor="end" class="t">10</text><path d="M98.8 691.72L121.7 691.72" stroke="#262626" stroke-width="4"/><text transform="translate(86 703.02) scale(1.08 1)" text-anchor="end" class="t">8</text><path d="M98.8 779.09L121.7 779.09" stroke="#262626" stroke-width="4"/><text transform="translate(86 790.39) scale(1.08 1)" text-anchor="end" class="t">6</text><path d="M98.8 866.46L121.7 866.46" stroke="#262626" stroke-width="4"/><text transform="translate(86 877.76) scale(1.08 1)" text-anchor="end" class="t">4</text><path d="M98.8 953.83L121.7 953.83" stroke="#262626" stroke-width="4"/><text transform="translate(86 965.13) scale(1.08 1)" text-anchor="end" class="t">2</text><text transform="translate(86 1052.5) scale(1.08 1)" text-anchor="end" class="t">0</text><path d="M230 1018L230 1041.2" stroke="#262626" stroke-width="4"/><path d="M493.7 1018L493.7 1041.2" stroke="#262626" stroke-width="4"/><path d="M756.6 1018L756.6 1041.2" stroke="#262626" stroke-width="4"/><path d="M1019.75 1018L1019.75 1041.2" stroke="#262626" stroke-width="4"/><text transform="translate(32.5 812.9) rotate(-90) scale(1.069 1.11)" text-anchor="middle" class="t">symptom score</text>
<g><use href="#p9" fill="#F5D0B3"/><g clip-path="url(#c9)"><path d="M230 644.5L-30 681.45L-30 771.63L230 866.4Z" fill="#E7985B"/><path d="M230 644.5L-30 681.45M230 866.4L-30 771.63" fill="none" stroke="#000" stroke-width="4.5"/></g><use href="#p9" fill="none" stroke="#000" stroke-width="4.5" stroke-linejoin="miter" stroke-miterlimit="6"/></g>
<g><use href="#p10" fill="#B9E3D6"/><g clip-path="url(#c10)"><path d="M230 818.2L490 864.66L490 936.12L230 955.3Z" fill="#6CC0A9"/><path d="M230 818.2L490 864.66M230 955.3L490 936.12" fill="none" stroke="#000" stroke-width="4.5"/></g><use href="#p10" fill="none" stroke="#000" stroke-width="4.5" stroke-linejoin="miter" stroke-miterlimit="6"/></g>
<g><use href="#p11" fill="#F5D0B3"/><g clip-path="url(#c11)"><path d="M493.7 730L233.7 780L233.7 849.5L493.7 914.5Z" fill="#E7985B"/><path d="M493.7 730L233.7 780M493.7 914.5L233.7 849.5" fill="none" stroke="#000" stroke-width="4.5"/></g><use href="#p11" fill="none" stroke="#000" stroke-width="4.5" stroke-linejoin="miter" stroke-miterlimit="6"/></g>
<g><use href="#p12" fill="#B9E3D6"/><g clip-path="url(#c12)"><path d="M493.7 863.75L753.7 902.52L753.7 972.7L493.7 997Z" fill="#6CC0A9"/><path d="M493.7 863.75L753.7 902.52M493.7 997L753.7 972.7" fill="none" stroke="#000" stroke-width="4.5"/></g><use href="#p12" fill="none" stroke="#000" stroke-width="4.5" stroke-linejoin="miter" stroke-miterlimit="6"/></g>
<g><use href="#p13" fill="#F5D0B3"/><g clip-path="url(#c13)"><path d="M756.5 690.5L496.5 720.68L496.5 802.97L756.5 866Z" fill="#E7985B"/><path d="M756.5 690.5L496.5 720.68M756.5 866L496.5 802.97" fill="none" stroke="#000" stroke-width="4.5"/></g><use href="#p13" fill="none" stroke="#000" stroke-width="4.5" stroke-linejoin="miter" stroke-miterlimit="6"/></g>
<g><use href="#p14" fill="#B9E3D6"/><g clip-path="url(#c14)"><path d="M756.5 735L1016.5 793.87L1016.5 919.63L756.5 952.5Z" fill="#6CC0A9"/><path d="M756.5 735L1016.5 793.87M756.5 952.5L1016.5 919.63" fill="none" stroke="#000" stroke-width="4.5"/></g><use href="#p14" fill="none" stroke="#000" stroke-width="4.5" stroke-linejoin="miter" stroke-miterlimit="6"/></g>
<g><use href="#p15" fill="#F5D0B3"/><g clip-path="url(#c15)"><path d="M1019.75 691.25L759.75 725.83L759.75 808.75L1019.75 866Z" fill="#E7985B"/><path d="M1019.75 691.25L759.75 725.83M1019.75 866L759.75 808.75" fill="none" stroke="#000" stroke-width="4.5"/></g><use href="#p15" fill="none" stroke="#000" stroke-width="4.5" stroke-linejoin="miter" stroke-miterlimit="6"/></g>
<g><use href="#p16" fill="#B9E3D6"/><g clip-path="url(#c16)"><path d="M1019.75 727.5L1279.75 777.18L1279.75 921.19L1019.75 960Z" fill="#6CC0A9"/><path d="M1019.75 727.5L1279.75 777.18M1019.75 960L1279.75 921.19" fill="none" stroke="#000" stroke-width="4.5"/></g><use href="#p16" fill="none" stroke="#000" stroke-width="4.5" stroke-linejoin="miter" stroke-miterlimit="6"/></g>
<path d="M230.15 604.3L230.15 1041.2" stroke="#000" stroke-width="4.8" stroke-linecap="square"/><path d="M493.85 604.4L493.85 1041.2" stroke="#000" stroke-width="4.8" stroke-linecap="square"/><path d="M756.65 604.4L756.65 1041.2" stroke="#000" stroke-width="4.8" stroke-linecap="square"/><path d="M1019.9 604.4L1019.9 1041.2" stroke="#000" stroke-width="4.8" stroke-linecap="square"/>
<path d="M229.7 1018L229.7 1041.2" stroke="#2e2e2e" stroke-width="3.4"/>
<path d="M493.4 1018L493.4 1041.2" stroke="#2e2e2e" stroke-width="3.4"/>
<path d="M756.3 1018L756.3 1041.2" stroke="#2e2e2e" stroke-width="3.4"/>
<path d="M1019.45 1018L1019.45 1041.2" stroke="#2e2e2e" stroke-width="3.4"/>
<text transform="translate(224.3 500) scale(1.08 1)" text-anchor="middle" class="t">brain fog</text>
<text transform="translate(224.3 541.8) scale(1.08 1)" text-anchor="middle" class="t">(n = 77)</text>
<text transform="translate(487 500) scale(1.08 1)" text-anchor="middle" class="t">sensory overload</text>
<text transform="translate(487 541.8) scale(1.08 1)" text-anchor="middle" class="t">(n = 76)</text>
<text transform="translate(750.6 500) scale(1.08 1)" text-anchor="middle" class="t">chronic fatigue</text>
<text transform="translate(750.6 541.8) scale(1.08 1)" text-anchor="middle" class="t">(n = 77)</text>
<text transform="translate(1014.3 500) scale(1.08 1)" text-anchor="middle" class="t">palpitations</text>
<text transform="translate(1014.3 541.8) scale(1.08 1)" text-anchor="middle" class="t">(n = 68)</text>
<text transform="translate(224 1080.2) scale(1.08 1)" text-anchor="middle" class="t">head ache</text>
<text transform="translate(224 1122.2) scale(1.08 1)" text-anchor="middle" class="t">(n = 70)</text>
<text transform="translate(487 1080.2) scale(1.08 1)" text-anchor="middle" class="t">dyspnea</text>
<text transform="translate(487 1122.2) scale(1.08 1)" text-anchor="middle" class="t">(n = 62)</text>
<text transform="translate(750 1080.2) scale(1.08 1)" text-anchor="middle" class="t">muscle pain</text>
<text transform="translate(750 1122.2) scale(1.08 1)" text-anchor="middle" class="t">(n = 62)</text>
<text transform="translate(1013.2 1080.2) scale(1.08 1)" text-anchor="middle" class="t">muscle weakness</text>
<text transform="translate(1013.2 1122.2) scale(1.08 1)" text-anchor="middle" class="t">(n = 66)</text>
<rect x="1033.7" y="5.4" width="162" height="95.9" fill="#fff" stroke="#262626" stroke-width="4.2"/>
<rect x="1047" y="17.3" width="33" height="30.4" fill="#E7985B" stroke="#000" stroke-width="3.2"/>
<rect x="1047" y="59.7" width="33" height="30.8" fill="#6CC0A9" stroke="#000" stroke-width="3.2"/>
<text transform="translate(1088.6 43.6) scale(1.08 1)" class="t">before</text>
<text transform="translate(1088.6 86.2) scale(1.08 1)" class="t">after</text>
</svg>
</body>
</html>
